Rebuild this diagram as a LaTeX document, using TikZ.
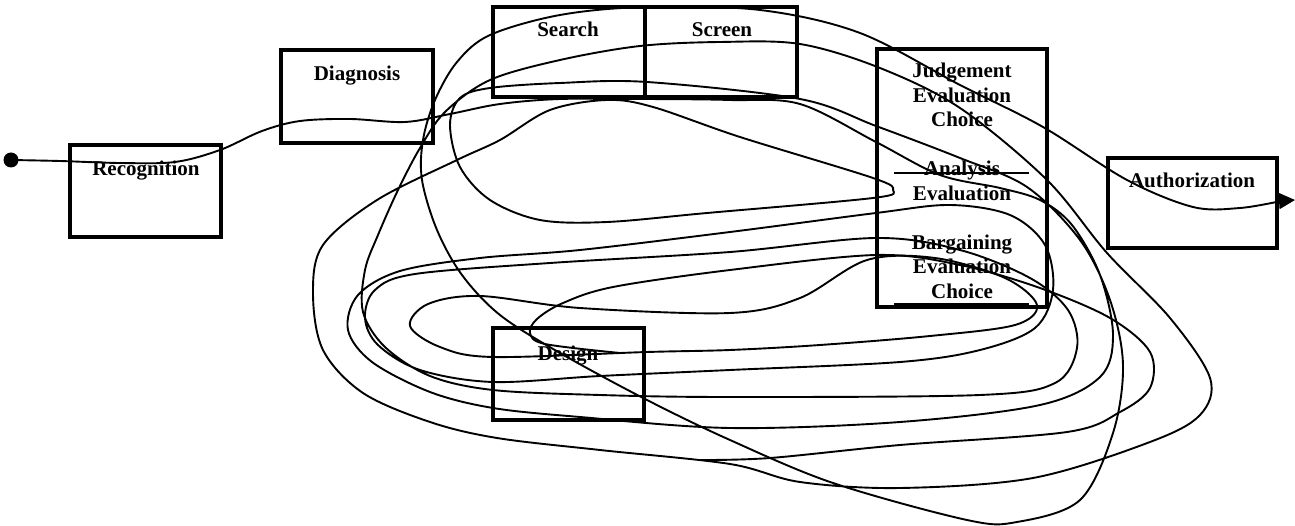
\documentclass[tikz,border=0pt]{standalone}
\usepackage{fontspec}
\setmainfont{Liberation Serif}
\usetikzlibrary{arrows.meta}
\begin{document}
\begin{tikzpicture}[x=1pt,y=-1pt,
  box/.style={draw,line width=4.2pt,inner sep=0pt,outer sep=0pt},
  lbl/.style={anchor=base,inner sep=0pt,font=\fontsize{21}{24}\selectfont\bfseries},
  wire/.style={line width=1.9pt,line join=round,line cap=round},
  rule/.style={line width=2pt}]
\useasboundingbox (0,0) rectangle (1295,526);
% boxes
\node[box,minimum width=151pt,minimum height=92pt] (rec) at (145.5,191) {};
\node[box,minimum width=152pt,minimum height=93pt] (dia) at (357,96.5) {};
\node[box,minimum width=152pt,minimum height=90pt] (sea) at (569,52) {};
\node[box,minimum width=152pt,minimum height=90pt] (scr) at (721,52) {};
\node[box,minimum width=170pt,minimum height=258pt] (jud) at (962,178) {};
\node[box,minimum width=169pt,minimum height=90pt] (aut) at (1192.5,203) {};
\node[box,minimum width=151pt,minimum height=92pt] (des) at (568.5,374) {};
% texts
\node[lbl] (tRec) at (146,176) {Recognition};
\node[lbl] (tDia) at (357,81) {Diagnosis};
\node[lbl] (tSea) at (568,37) {Search};
\node[lbl] (tScr) at (722,37) {Screen};
\node[lbl] (tJ1) at (962,78) {Judgement};
\node[lbl] (tJ2) at (962,103) {Evaluation};
\node[lbl] (tJ3) at (962,127) {Choice};
\node[lbl] (tA1) at (962,176) {Analysis};
\node[lbl] (tA2) at (962,201) {Evaluation};
\node[lbl] (tB1) at (962,250) {Bargaining};
\node[lbl] (tB2) at (962,274) {Evaluation};
\node[lbl] (tB3) at (962,299) {Choice};
\node[lbl] (tAut) at (1192,188) {Authorization};
\node[lbl] (tDes) at (568,360) {Design};
% rules inside judgement box
\coordinate (r1a) at (894,173); \coordinate (r1b) at (1029,173);
\coordinate (r2a) at (894,305); \coordinate (r2b) at (1029,305);
\draw[rule] (r1a) -- (r1b);
\draw[line width=3pt] (r2a) -- (r2b);
% start and end
\coordinate (start) at (11,160);
\coordinate (finish) at (1295,200);
\fill (start) circle (7.5pt);
% main tangled path
\draw[wire] plot[smooth,tension=0.55] coordinates {
 (11,160) (60,161) (120,163) (175,162) (220,150) (262,131) (300,121) (350,119) (405,122) (450,114)
 (500,104) (560,99) (645,99) (730,100) (800,104) (876,142) (940,175) (1000,188) (1040,200) (1072,225)
 (1100,275) (1113,335) (1100,377) (1040,405) (900,422) (730,428) (580,417) (493,408) (430,392) (372,362)
 (348,330) (358,295) (400,271) (480,258) (580,250) (730,232) (876,213)
 (950,205) (1010,215) (1045,245) (1053,290) (1035,328) (980,350) (900,362) (730,370) (600,376) (493,382)
 (420,370) (378,345) (365,318) (375,290) (415,274) (550,263) (730,252) (876,238)
 (960,250) (1030,278) (1068,310) (1077,348) (1055,383) (980,395) (730,397) (600,395) (493,390) (430,376)
 (385,347) (363,312) (365,270) (378,235) (398,190) (420,148) (445,112) (490,80) (560,60) (640,46) (720,42)
 (800,44) (880,68) (960,108) (1047,180) (1107,253) (1170,318) (1210,378) (1200,415) (1150,442) (1033,478)
 (900,488) (800,482) (730,464) (600,450) (497,438) (430,422) (363,393) (323,350) (313,293) (323,245)
 (377,200) (457,160) (500,140) (550,110) (607,100) (653,107) (740,137) (873,178) (893,190) (873,198)
 (707,213) (607,222) (540,220) (490,200) (460,167) (450,125) (460,98) (490,88) (560,83) (647,82) (800,99)
 (876,126) (960,158) (1027,187) (1080,240) (1110,300) (1123,365) (1113,433) (1080,500) (1017,522) (967,520)
 (833,483) (730,440) (647,400) (560,353) (500,315) (462,275) (437,230) (422,180) (423,140) (435,100)
 (457,62) (490,35) (560,15) (645,7) (760,10) (860,33) (960,85) (1043,127) (1127,180) (1193,207) (1240,208)
 (1281,201)};
\draw[-{Triangle[length=16pt,width=16pt]},line width=1.8pt] (1279,201) -- (finish);
% inner loop around Analysis/Bargaining
\draw[wire] plot[smooth cycle,tension=0.55] coordinates {
 (730,313) (800,298) (867,260) (935,258) (1005,278) (1037,305) (1015,325) (930,336) (820,345) (730,350)
 (647,352) (493,357) (440,347) (410,326) (428,304) (480,296) (580,308)};
% hook near Design and wide right loop
\draw[wire] plot[smooth,tension=0.55] coordinates {
 (620,353) (545,344) (530,333) (537,319) (563,303) (613,287) (730,270) (876,255) (960,265) (1040,288)
 (1110,318) (1150,352) (1150,388) (1120,412) (1067,432) (900,445) (770,458) (700,460)};
\end{tikzpicture}
\end{document}
